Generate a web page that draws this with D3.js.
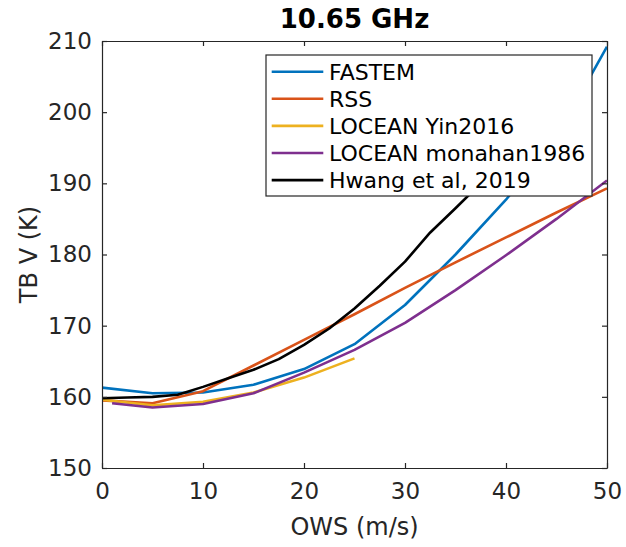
<!DOCTYPE html>
<html>
<head>
<meta charset="utf-8">
<script src="https://cdn.jsdelivr.net/npm/d3@7"></script>
<style>
  body { margin: 0; background: #fff; }
  text { font-family: "DejaVu Sans", sans-serif; }
</style>
</head>
<body>
<svg id="chart" width="626" height="547"></svg>
<script>
// ---- Data ----
const titleText = "10.65 GHz";
const xLabel = "OWS (m/s)";
const yLabel = "TB V (K)";
const xTicks = [0, 10, 20, 30, 40, 50];
const yTicks = [150, 160, 170, 180, 190, 200, 210];

const seriesNames = ["FASTEM", "RSS", "LOCEAN Yin2016", "LOCEAN monahan1986", "Hwang et al, 2019"];
const seriesColors = ["#0072BD", "#D95319", "#EDB120", "#7E2F8E", "#000000"];

const fastemOWS = [0, 5, 10, 15, 20, 25, 30, 35, 40, 45, 50];
const fastemTB  = [161.3, 160.5, 160.6, 161.7, 163.9, 167.4, 172.9, 180.0, 187.7, 196.5, 209.2];

const rssOWS = [0, 5, 10, 15, 20, 25, 30, 35, 40, 45, 50];
const rssTB  = [159.5, 159.1, 160.8, 164.4, 168.0, 171.6, 175.3, 178.9, 182.4, 185.9, 189.3];

const yinOWS = [0, 5, 10, 15, 20, 25];
const yinTB  = [159.6, 158.8, 159.3, 160.6, 162.7, 165.4];

const monahanOWS = [1, 5, 10, 15, 20, 25, 30, 35, 40, 45, 50];
const monahanTB  = [159.1, 158.5, 159.0, 160.5, 163.4, 166.6, 170.4, 175.0, 179.9, 185.0, 190.4];

const hwangOWS = [0, 2.5, 5, 7.5, 10, 12.5, 15, 17.5, 20, 22.5, 25, 27.5, 30, 32.5, 35, 37.5, 40];
const hwangTB  = [159.8, 159.9, 160.0, 160.3, 161.4, 162.6, 163.8, 165.3, 167.3, 169.6, 172.4, 175.6, 179.0, 183.1, 186.5, 190.0, 193.5];

const seriesX = [fastemOWS, rssOWS, yinOWS, monahanOWS, hwangOWS];
const seriesY = [fastemTB, rssTB, yinTB, monahanTB, hwangTB];

// ---- Layout ----
const svg = d3.select("#chart");
const L = 102, R = 607, T = 41, B = 468;
const axisColor = "#262626";

const x = d3.scaleLinear().domain([0, 50]).range([L, R]);
const y = d3.scaleLinear().domain([150, 210]).range([B, T]);

// clip
svg.append("defs").append("clipPath").attr("id", "plotclip")
  .append("rect").attr("x", L).attr("y", T).attr("width", R - L).attr("height", B - T);

// lines
const line = d3.line().x(d => x(d[0])).y(d => y(d[1]));
const gLines = svg.append("g").attr("clip-path", "url(#plotclip)");
seriesNames.forEach((name, i) => {
  const pts = seriesX[i].map((v, j) => [v, seriesY[i][j]]);
  gLines.append("path")
    .datum(pts)
    .attr("d", line)
    .attr("fill", "none")
    .attr("stroke", seriesColors[i])
    .attr("stroke-width", 2.6)
    .attr("stroke-linejoin", "round");
});

// axes
const tickLen = 5;
const fontTick = 23;
const xAxisB = d3.axisBottom(x).tickValues(xTicks).tickSizeInner(-tickLen).tickSizeOuter(0).tickPadding(15);
const xAxisT = d3.axisTop(x).tickValues(xTicks).tickSizeInner(-tickLen).tickSizeOuter(0).tickFormat("");
const yAxisL = d3.axisLeft(y).tickValues(yTicks).tickSizeInner(-tickLen).tickSizeOuter(0).tickPadding(10);
const yAxisR = d3.axisRight(y).tickValues(yTicks).tickSizeInner(-tickLen).tickSizeOuter(0).tickFormat("");

function style(g) {
  g.select(".domain").attr("stroke", axisColor).attr("stroke-width", 1.2);
  g.selectAll(".tick line").attr("stroke", axisColor).attr("stroke-width", 1.2);
  g.selectAll(".tick text").attr("fill", axisColor).attr("font-size", fontTick)
    .attr("font-family", "DejaVu Sans, sans-serif");
}
svg.append("g").attr("transform", `translate(0,${B})`).call(xAxisB).call(style);
svg.append("g").attr("transform", `translate(0,${T})`).call(xAxisT).call(style);
svg.append("g").attr("transform", `translate(${L},0)`).call(yAxisL).call(style);
svg.append("g").attr("transform", `translate(${R},0)`).call(yAxisR).call(style);

// labels
svg.append("text")
  .attr("x", (L + R) / 2).attr("y", 535)
  .attr("text-anchor", "middle").attr("font-size", 24).attr("fill", axisColor)
  .text(xLabel);
svg.append("text")
  .attr("transform", `translate(37,${(T + B) / 2}) rotate(-90)`)
  .attr("text-anchor", "middle").attr("font-size", 24).attr("fill", axisColor)
  .text(yLabel);
svg.append("text")
  .attr("x", (L + R) / 2).attr("y", 28.3)
  .attr("text-anchor", "middle").attr("font-size", 26).attr("font-weight", "bold").attr("fill", "#000")
  .text(titleText);

// legend
const lgX = 266, lgY = 55, lgW = 326, lgH = 141;
const lg = svg.append("g");
lg.append("rect").attr("x", lgX).attr("y", lgY).attr("width", lgW).attr("height", lgH)
  .attr("fill", "#fff").attr("stroke", axisColor).attr("stroke-width", 1.2);
const rowY0 = 71.7, rowDy = 27.1;
seriesNames.forEach((name, i) => {
  const cy = rowY0 + i * rowDy;
  lg.append("line").attr("x1", 271.7).attr("x2", 323.3).attr("y1", cy).attr("y2", cy)
    .attr("stroke", seriesColors[i]).attr("stroke-width", 2.6);
  lg.append("text").attr("x", 329).attr("y", cy).attr("dy", "0.36em")
    .attr("font-size", 22).attr("fill", "#000").text(name);
});
</script>
</body>
</html>
